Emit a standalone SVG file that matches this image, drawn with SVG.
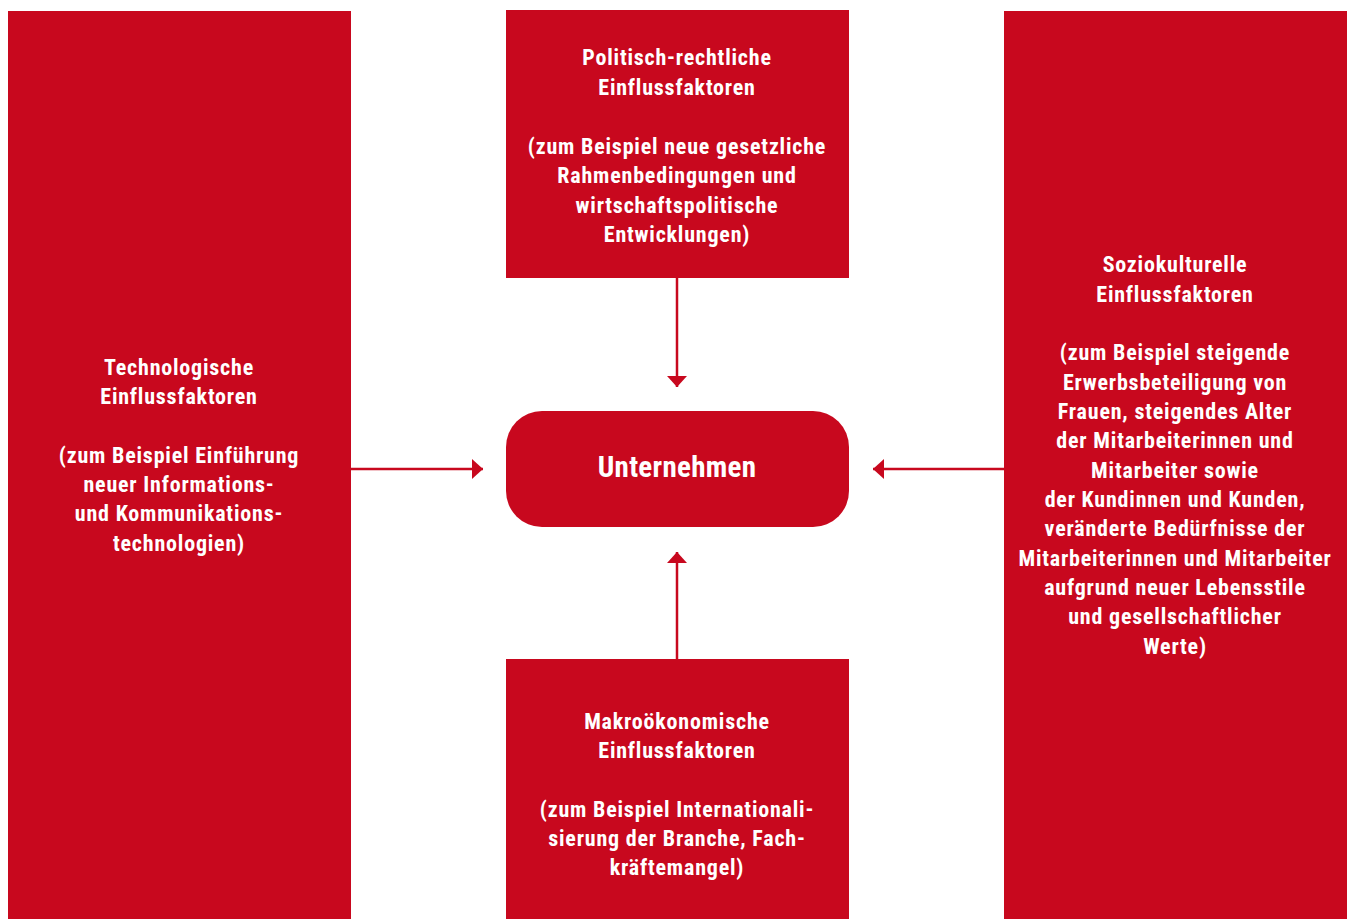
<svg xmlns="http://www.w3.org/2000/svg" width="1352" height="919" viewBox="0 0 1352 919">
<style>
.box{fill:#C8081E}
.t{font-family:"Liberation Sans Narrow","Roboto Condensed","Liberation Sans",Arial,sans-serif;font-weight:bold;font-size:22px;letter-spacing:0.8px;fill:#fff;text-anchor:middle}
.c{stroke:#C8081E;stroke-width:2.5;fill:none}
</style>
<defs>
<marker id="ah" viewBox="0 0 11 20" refX="11" refY="10" markerWidth="11" markerHeight="20" markerUnits="userSpaceOnUse" orient="auto">
<path d="M0,0 L11,10 L0,20 Z" fill="#C8081E"/>
</marker>
</defs>
<rect width="1352" height="919" fill="#fff"/>
<g id="connectors">
<line class="c" x1="351" y1="469" x2="483" y2="469" marker-end="url(#ah)"/>
<line class="c" x1="1004" y1="469" x2="873" y2="469" marker-end="url(#ah)"/>
<line class="c" x1="677" y1="278" x2="677" y2="387" marker-end="url(#ah)"/>
<line class="c" x1="677" y1="659" x2="677" y2="552" marker-end="url(#ah)"/>
</g>
<g id="tech">
<rect class="box" x="8" y="11" width="343" height="908"/>
<text class="t"><tspan x="179" y="375">Technologische</tspan><tspan x="179" y="404">Einflussfaktoren</tspan><tspan x="179" y="463">(zum Beispiel Einführung</tspan><tspan x="179" y="492">neuer Informations-</tspan><tspan x="179" y="521">und Kommunikations-</tspan><tspan x="179" y="551">technologien)</tspan></text>
</g>
<g id="polit">
<rect class="box" x="506" y="10" width="343" height="268"/>
<text class="t"><tspan x="677" y="65">Politisch-rechtliche</tspan><tspan x="677" y="95">Einflussfaktoren</tspan><tspan x="677" y="154">(zum Beispiel neue gesetzliche</tspan><tspan x="677" y="183">Rahmenbedingungen und</tspan><tspan x="677" y="213">wirtschaftspolitische</tspan><tspan x="677" y="242">Entwicklungen)</tspan></text>
</g>
<g id="sozio">
<rect class="box" x="1004" y="11" width="343" height="908"/>
<text class="t"><tspan x="1175" y="272">Soziokulturelle</tspan><tspan x="1175" y="302">Einflussfaktoren</tspan><tspan x="1175" y="360">(zum Beispiel steigende</tspan><tspan x="1175" y="390">Erwerbsbeteiligung von</tspan><tspan x="1175" y="419">Frauen, steigendes Alter</tspan><tspan x="1175" y="448">der Mitarbeiterinnen und</tspan><tspan x="1175" y="478">Mitarbeiter sowie</tspan><tspan x="1175" y="507">der Kundinnen und Kunden,</tspan><tspan x="1175" y="536">veränderte Bedürfnisse der</tspan><tspan x="1175" y="566">Mitarbeiterinnen und Mitarbeiter</tspan><tspan x="1175" y="595">aufgrund neuer Lebensstile</tspan><tspan x="1175" y="624">und gesellschaftlicher</tspan><tspan x="1175" y="654">Werte)</tspan></text>
</g>
<g id="makro">
<rect class="box" x="506" y="659" width="343" height="260"/>
<text class="t"><tspan x="677" y="729">Makroökonomische</tspan><tspan x="677" y="758">Einflussfaktoren</tspan><tspan x="677" y="817">(zum Beispiel Internationali-</tspan><tspan x="677" y="846">sierung der Branche, Fach-</tspan><tspan x="677" y="875">kräftemangel)</tspan></text>
</g>
<g id="unternehmen">
<rect class="box" x="506" y="411" width="343" height="116" rx="36" ry="36"/>
<text class="t" x="677" y="477" style="font-size:29px;letter-spacing:0.3px">Unternehmen</text>
</g>
</svg>
